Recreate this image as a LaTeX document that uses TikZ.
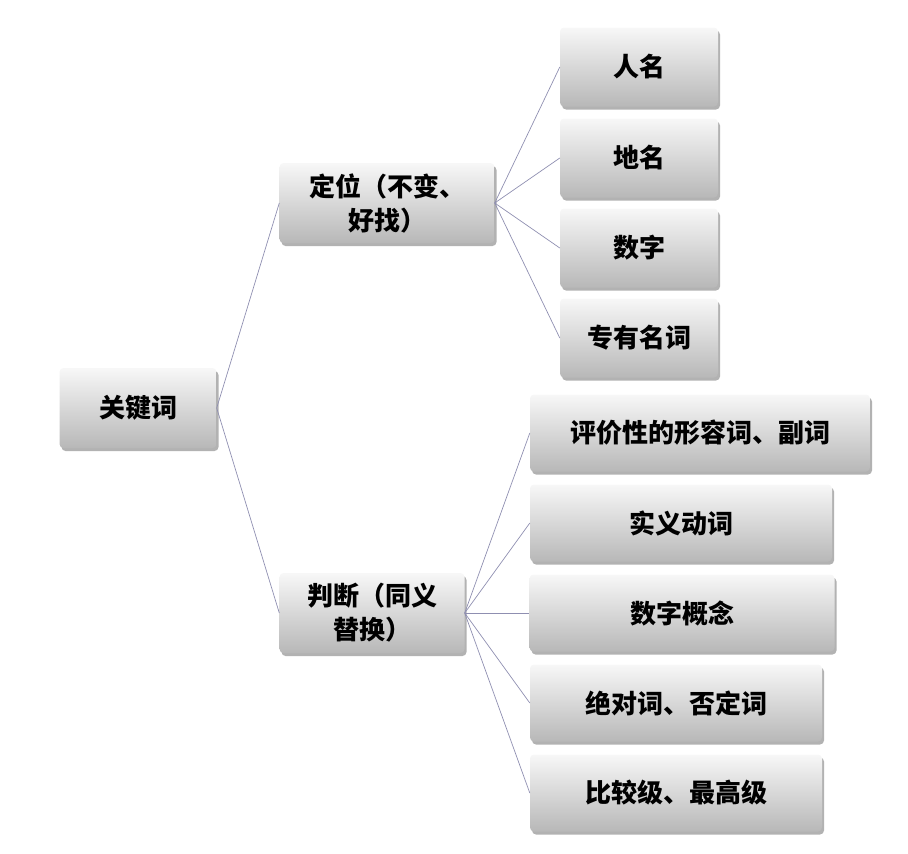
\documentclass[tikz,border=0pt]{standalone}
\usepackage{fontspec}
\newfontfamily\cjk{Noto Sans CJK SC}
\usetikzlibrary{shadows}
\begin{document}
\begin{tikzpicture}[x=1pt,y=-1pt,
  box/.style={rounded corners=4pt, top color=white!97!black, bottom color=black!28,
    draw=none, font=\cjk\bfseries\fontsize{26}{34}\selectfont, text=black,
    align=center, inner sep=0pt,
    drop shadow={shadow xshift=2pt, shadow yshift=-3pt, opacity=0.3, fill=black}},
  link/.style={draw=black!25!blue!25!gray!70, line width=0.7pt}]
\useasboundingbox (0,0) rectangle (908,854);
\node[box, minimum width=157, minimum height=80] (root) at (138,408) {关键词};
\node[box, minimum width=215, minimum height=80] (dw) at (387,203) {定位（不变、\\好找）};
\node[box, minimum width=185, minimum height=80] (pd) at (372,613) {判断（同义\\替换）};
\node[box, minimum width=158, minimum height=79] (a1) at (639,67) {人名};
\node[box, minimum width=158, minimum height=79] (a2) at (639,158) {地名};
\node[box, minimum width=158, minimum height=79] (a3) at (639,248) {数字};
\node[box, minimum width=158, minimum height=79] (a4) at (639,338) {专有名词};
\node[box, minimum width=340, minimum height=77] (b1) at (700,433) {评价性的形容词、副词};
\node[box, minimum width=302, minimum height=77] (b2) at (681,523) {实义动词};
\node[box, minimum width=305, minimum height=77] (b3) at (682,613) {数字概念};
\node[box, minimum width=292, minimum height=77] (b4) at (676,703) {绝对词、否定词};
\node[box, minimum width=292, minimum height=77] (b5) at (676,793) {比较级、最高级};
\foreach \c in {dw,pd} \draw[link] (root.east) -- (\c.west);
\foreach \c in {a1,a2,a3,a4} \draw[link] (dw.east) -- (\c.west);
\foreach \c in {b1,b2,b3,b4,b5} \draw[link] (pd.east) -- (\c.west);
\end{tikzpicture}
\end{document}
